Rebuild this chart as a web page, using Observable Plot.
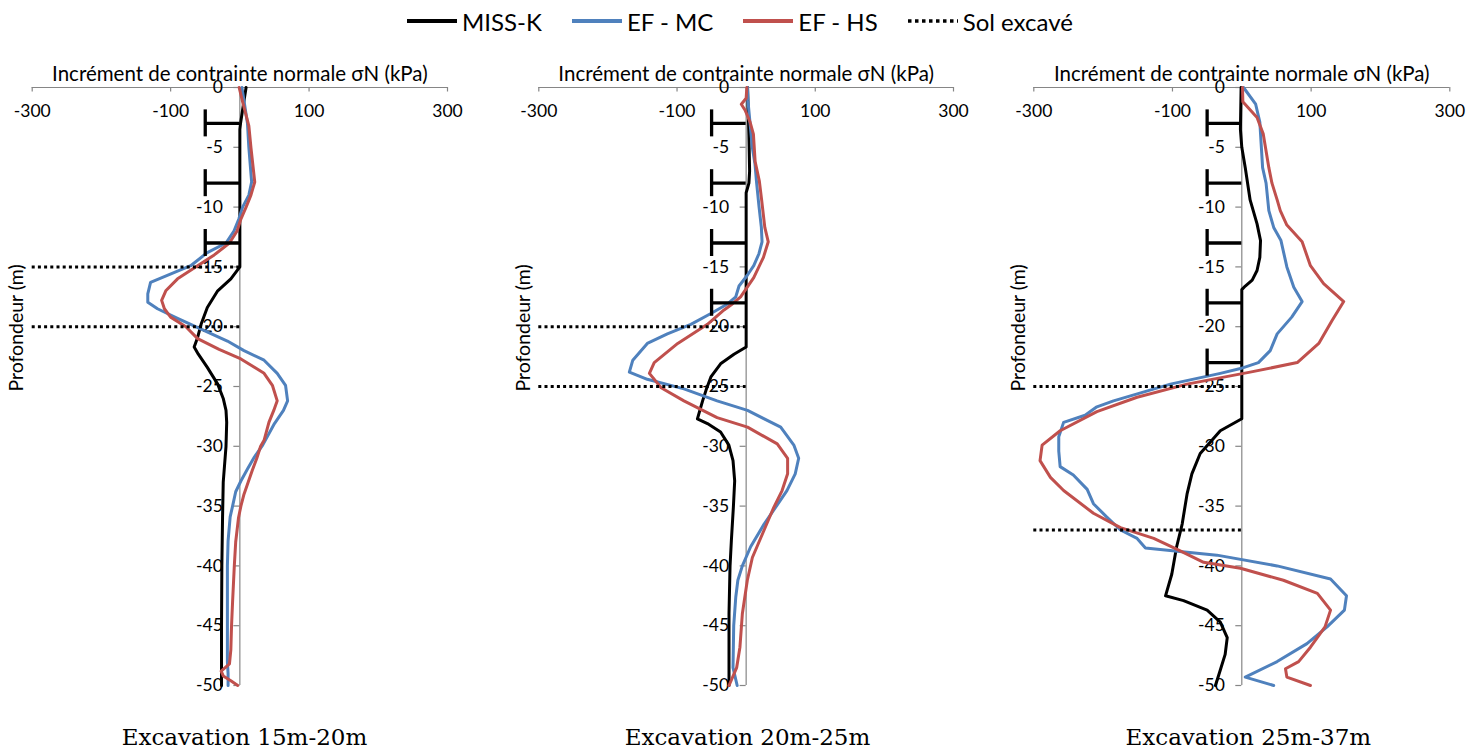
<!DOCTYPE html>
<html><head><meta charset="utf-8">
<script src="https://cdn.jsdelivr.net/npm/d3@7"></script>
<script src="https://cdn.jsdelivr.net/npm/@observablehq/plot@0.6"></script>
<style>
body{margin:0;background:#fff;}
#wrap{position:relative;width:1481px;height:756px;overflow:hidden;font-family:Lato,"Open Sans",sans-serif;background:#fff;}
.panel{position:absolute;top:0;}
#legend{position:absolute;top:6px;left:407px;height:30px;display:flex;align-items:center;font-size:24px;color:#000;white-space:nowrap;}
#legend .item{display:flex;align-items:center;margin-right:30px;}
#legend svg{margin-right:5px;display:block;}
.ptitle{position:absolute;top:724px;width:400px;text-align:center;font-family:"DejaVu Serif",serif;font-size:23px;color:#000;white-space:nowrap;}
</style></head>
<body>
<div id="wrap"><div id="legend"></div></div>
<script>
// ---------- data ----------
const seriesNames = ["MISS-K", "EF - MC", "EF - HS", "Sol excavé"];
const seriesColors = ["#000000", "#4F81BD", "#C0504D", "#000000"];
const xTicks = [-300, -100, 100, 300];
const yTicks = [0, -5, -10, -15, -20, -25, -30, -35, -40, -45, -50];
const xTitle = "Incrément de contrainte normale σN (kPa)";
const yTitle = "Profondeur (m)";
const panelTitles = ["Excavation 15m-20m", "Excavation 20m-25m", "Excavation 25m-37m"];
const strutX = -50;

// [valeur kPa, profondeur m]
const p1MissK = [[9,0],[6,-1.1],[1,-3],[0,-3.5],[0,-15],[-13,-16],[-32,-17],[-47,-18.4],[-56,-19.8],[-61,-20.9],[-66,-21.7],[-60,-22.3],[-47,-23.4],[-32,-24.8],[-24,-26],[-20,-27],[-19,-28],[-20,-30],[-24,-33],[-25,-36],[-26,-40],[-26.5,-45],[-26.5,-50]];
const p1MC = [[3,0],[6,-1.1],[11,-3],[13,-5],[17,-7.9],[13,-9],[4,-10],[-1.5,-11],[-8.5,-12],[-20,-13],[-47,-13.8],[-71,-14.9],[-129,-16.3],[-133,-17.25],[-133,-17.95],[-119,-18.5],[-90,-19.3],[-56,-20.2],[-18,-21.2],[6,-22],[35,-22.8],[54,-23.9],[66,-24.9],[69,-26.2],[63,-27],[50,-28.1],[33,-29.9],[21,-30.9],[11,-31.9],[1.5,-32.9],[-6,-33.8],[-10.5,-35],[-14,-35.9],[-17,-37.9],[-18,-40],[-18,-45],[-18,-48],[-17,-49],[-17,-50]];
const p1HS = [[-1,0],[4,-1.2],[13,-3.2],[16,-5],[21.5,-7.9],[16,-9],[9,-10],[1.5,-11],[-4,-12],[-15,-13],[-37,-14],[-61,-14.9],[-90,-16],[-107,-17],[-113,-17.8],[-109,-18.5],[-100,-19.2],[-78,-20],[-61,-21],[-30,-21.9],[1.5,-22.7],[35,-23.9],[47,-24.9],[54,-26.2],[49,-27],[42,-28],[35,-29.5],[30,-30],[24.5,-31],[18,-32],[12,-33],[6,-34],[1.5,-35],[-2,-36],[-6,-38],[-8,-40],[-10.5,-43],[-12,-45],[-13,-47],[-15,-48.2],[-27,-48.8],[-24,-49.2],[-13,-49.6],[-3,-50]];
const p1Struts = [-3, -8, -13];
const p1Excav = [-15, -20];

const p2MissK = [[2,0],[3,-2],[4,-4],[5,-7],[4,-8],[0,-8.8],[0,-21.7],[-17.6,-22.3],[-37,-23.1],[-51,-24.2],[-58,-25.3],[-63,-26.2],[-67,-27],[-70.5,-27.7],[-56,-28.1],[-37,-28.8],[-25,-29.9],[-19,-31.2],[-16.6,-32.9],[-18.5,-35.1],[-21.4,-37.9],[-23.3,-40],[-24.8,-44],[-24.8,-50]];
const p2MC = [[2,0],[2.6,-1.1],[5.5,-2.9],[8.9,-5],[12.8,-6.4],[15,-7.9],[18.5,-9.9],[22,-11.7],[23,-12.9],[18.5,-13.9],[11,-14.9],[1.7,-15.7],[-10.3,-16.6],[-15,-17.5],[-27,-18.1],[-51,-18.9],[-80,-19.8],[-114,-20.6],[-143,-21.4],[-164,-22.8],[-169,-23.8],[-143,-24.4],[-90,-25.2],[-42,-26.2],[2,-27],[50,-28.4],[69,-29.9],[76,-31],[71,-32.3],[59,-33.7],[45,-34.9],[26,-36.5],[6.5,-38.4],[-5.5,-40],[-12,-41.2],[-15,-42.6],[-18,-45],[-19,-48.5],[-13,-50]];
const p2HS = [[1,0],[0,-0.9],[-7,-1.4],[-1.5,-1.9],[5.7,-2.9],[10.5,-3.9],[13,-6.2],[19,-7.8],[22.4,-9.4],[27,-11.7],[32,-12.9],[25,-14.2],[11,-15.9],[-8,-17.5],[-20,-18.1],[-32,-18.6],[-56,-19.8],[-99,-21.4],[-133,-23],[-140,-23.9],[-123,-25.1],[-90,-26.2],[-42,-27.6],[2,-28.4],[45,-29.8],[60,-31],[60,-32.3],[52,-33.7],[40,-35.1],[26,-37],[9,-39.3],[1.7,-41.2],[-5.5,-44],[-9,-46.8],[-13.7,-48.5],[-24.8,-50]];
const p2Struts = [-3, -8, -13, -18];
const p2Excav = [-20, -25];

const p3MissK = [[-1,0],[-2,-3.5],[0,-5],[5,-6.7],[12,-9.4],[22,-11.4],[27,-12.8],[26,-14.2],[22,-15.3],[15,-16.1],[5,-16.6],[0,-16.9],[0,-27.7],[-31,-28.7],[-60,-30.6],[-72,-32.3],[-79,-34],[-86,-36.5],[-94,-38.4],[-101,-40.7],[-110,-42.5],[-84,-42.9],[-50,-43.7],[-31,-44.7],[-21,-46],[-24,-47.4],[-31,-48.7],[-38,-50]];
const p3MC = [[2.5,0],[20,-1.4],[26,-2.9],[30,-6.7],[35,-8],[39,-10.3],[46,-11.7],[56.5,-12.8],[65,-15],[75,-16.7],[87,-17.9],[72,-19.2],[51,-20.6],[41,-22],[24,-23],[-2,-23.5],[-31,-23.9],[-103,-24.8],[-185,-26.2],[-209,-26.7],[-226,-27.4],[-257,-28],[-264,-29.2],[-264,-30.4],[-262,-31.7],[-243,-32.4],[-223,-33.6],[-214,-34.8],[-195,-35.9],[-175,-37],[-151,-37.7],[-139,-38.5],[-36,-39.1],[51,-40],[128,-41.1],[151,-42.5],[148,-43.7],[123,-45.1],[94,-46.5],[51,-48],[5,-49.3],[46,-50]];
const p3HS = [[1,0],[1.5,-1.2],[22,-2.5],[31,-3.9],[39,-6.7],[43.5,-8],[51,-9.4],[55.5,-10.3],[65,-11.5],[87,-12.9],[99,-14.9],[118,-16.4],[147,-17.9],[130,-19.5],[111,-21.4],[80,-23],[12,-23.8],[-79,-24.8],[-151,-25.9],[-209,-27.1],[-262,-28.7],[-288,-29.9],[-291,-31.2],[-276,-32.6],[-257,-33.7],[-214,-35.6],[-175,-36.8],[-127,-37.7],[-94,-38.6],[-55,-39.7],[-2,-40.2],[60,-41.2],[109,-42.3],[128,-43.7],[120,-45.1],[99,-46.8],[82,-48],[63,-48.6],[65,-49.3],[99,-50]];
const p3Struts = [-3, -8, -13, -18, -23];
const p3Excav = [-25, -37];

// ---------- layout ----------
const gray = "#868686";
const panels = [
  {left: 0,   w: 495, ml: 31.7, mr: 48,   miss: p1MissK, mc: p1MC, hs: p1HS, struts: p1Struts, excav: p1Excav, title: panelTitles[0], tx: 244.5},
  {left: 495, w: 495, ml: 43.3, mr: 37,   miss: p2MissK, mc: p2MC, hs: p2HS, struts: p2Struts, excav: p2Excav, title: panelTitles[1], tx: 747.5},
  {left: 990, w: 491, ml: 43.3, mr: 31.7, miss: p3MissK, mc: p3MC, hs: p3HS, struts: p3Struts, excav: p3Excav, title: panelTitles[2], tx: 1248.3}
];
const xDom = [xTicks[0], xTicks[xTicks.length - 1]];
const yDom = [yTicks[yTicks.length - 1], yTicks[0]];
const wrap = document.getElementById("wrap");

for (const p of panels) {
  const lineOpts = (c) => ({x: d => d[0], y: d => d[1], stroke: c, strokeWidth: 3, strokeLinejoin: "round", strokeLinecap: "round"});
  const chart = Plot.plot({
    width: p.w, height: 756,
    marginTop: 87, marginBottom: 71, marginLeft: p.ml, marginRight: p.mr,
    x: {domain: xDom, axis: null},
    y: {domain: yDom, axis: null},
    style: {background: "transparent", fontFamily: "Lato, 'Open Sans', sans-serif", fontSize: "17.5px", overflow: "visible", color: "#000"},
    marks: [
      Plot.ruleY([0], {x1: xDom[0], x2: xDom[1], stroke: gray, strokeWidth: 1.2}),
      Plot.ruleX(xTicks, {x: d => d, y1: 0, y2: 0, insetBottom: -4.5, stroke: gray, strokeWidth: 1.2}),
      Plot.text(xTicks, {x: d => d, y: 0, dy: 24, text: d => String(d), fill: "#000"}),
      Plot.text([xTitle], {frameAnchor: "top", dy: -21, text: d => d, fontSize: 20.5, fill: "#000"}),
      Plot.ruleX([0], {y1: yDom[0], y2: yDom[1], stroke: gray, strokeWidth: 1.2}),
      Plot.ruleY(yTicks, {y: d => d, x1: 0, x2: 0, insetLeft: -6, stroke: gray, strokeWidth: 1.2}),
      Plot.text(yTicks, {y: d => d, x: 0, dx: -17, textAnchor: "end", text: d => String(d), fill: "#000"}),
      Plot.text([yTitle], {frameAnchor: "left", dx: -15, dy: 5, rotate: -90, text: d => d, fontSize: 19.5, fill: "#000"}),
      Plot.line(p.miss, lineOpts(seriesColors[0])),
      Plot.line(p.mc, lineOpts(seriesColors[1])),
      Plot.line(p.hs, lineOpts(seriesColors[2])),
      Plot.ruleY(p.excav, {y: d => d, x1: xDom[0], x2: 0, stroke: seriesColors[3], strokeWidth: 3, strokeDasharray: "3 3.2"}),
      Plot.ruleY(p.struts, {y: d => d, x1: strutX, x2: 0, stroke: "#000", strokeWidth: 3.3}),
      Plot.ruleX(p.struts, {x: strutX, y1: d => d, y2: d => d, insetTop: -13.5, insetBottom: -13.5, stroke: "#000", strokeWidth: 3.3})
    ]
  });
  chart.classList.add("panel");
  chart.style.left = p.left + "px";
  wrap.appendChild(chart);
  const t = document.createElement("div");
  t.className = "ptitle";
  t.textContent = p.title;
  t.style.left = (p.tx - 200) + "px";
  wrap.appendChild(t);
}

// legend
const legend = document.getElementById("legend");
seriesNames.forEach((name, i) => {
  const item = document.createElement("div");
  item.className = "item";
  const dash = i === 3 ? ' stroke-dasharray="3.5 3.5"' : '';
  const sw = i === 3 ? 3.5 : 4;
  item.innerHTML = `<svg width="50" height="12"><line x1="0" x2="50" y1="6" y2="6" stroke="${seriesColors[i]}" stroke-width="${sw}"${dash}/></svg><span>${name}</span>`;
  legend.appendChild(item);
});
</script>
</body></html>
